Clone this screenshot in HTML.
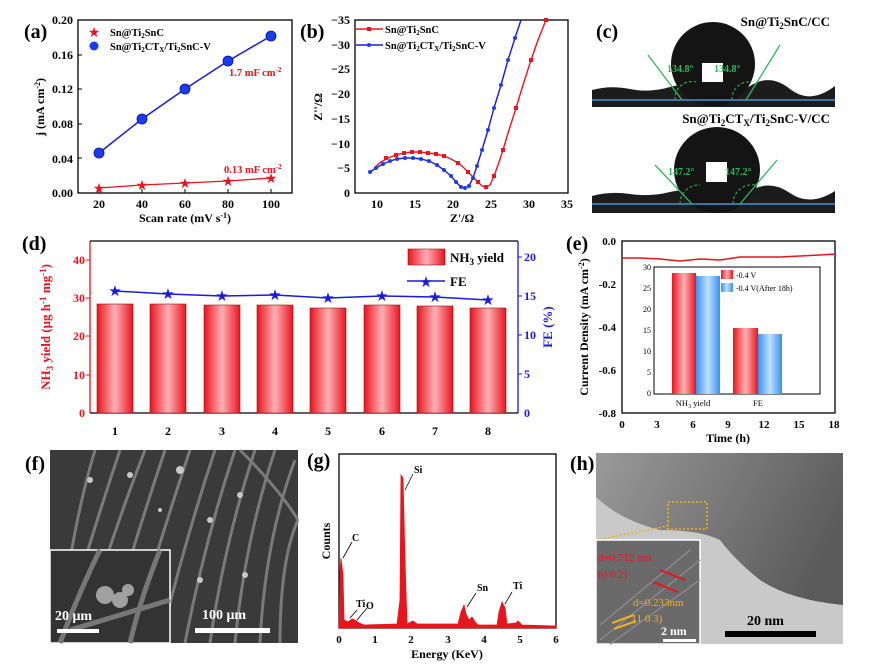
<!DOCTYPE html>
<html><head><meta charset="utf-8"><style>
body{margin:0;background:#fff}
svg{display:block;font-family:"Liberation Serif",serif;font-weight:bold}
</style></head><body>
<svg width="880" height="668" viewBox="0 0 880 668" xmlns="http://www.w3.org/2000/svg">
<!-- (a) -->
<text x="24" y="38" font-size="20">(a)</text>
<rect x="78" y="20" width="214" height="173" fill="none" stroke="#000" stroke-width="1.3"/>
<g font-size="12" text-anchor="end">
<text x="73" y="24">0.20</text><text x="73" y="59">0.16</text><text x="73" y="93">0.12</text><text x="73" y="128">0.08</text><text x="73" y="163">0.04</text><text x="73" y="197">0.00</text></g>
<g stroke="#000"><line x1="78" y1="55" x2="82" y2="55"/><line x1="78" y1="89" x2="82" y2="89"/><line x1="78" y1="124" x2="82" y2="124"/><line x1="78" y1="158" x2="82" y2="158"/>
<line x1="99" y1="193" x2="99" y2="189"/><line x1="142" y1="193" x2="142" y2="189"/><line x1="185" y1="193" x2="185" y2="189"/><line x1="228" y1="193" x2="228" y2="189"/><line x1="271" y1="193" x2="271" y2="189"/></g>
<g font-size="12" text-anchor="middle"><text x="99" y="208">20</text><text x="142" y="208">40</text><text x="185" y="208">60</text><text x="228" y="208">80</text><text x="271" y="208">100</text></g>
<text x="185" y="222" font-size="12" text-anchor="middle">Scan rate (mV s<tspan font-size="8" dy="-4">-1</tspan><tspan dy="4">)</tspan></text>
<text transform="translate(44,107) rotate(-90)" font-size="12" text-anchor="middle">j (mA cm<tspan font-size="8" dy="-4">-2</tspan><tspan dy="4">)</tspan></text>
<polyline points="99,153 142,119 185,89 228,61 271,36" fill="none" stroke="#1a1adc" stroke-width="1.5"/>
<g fill="#1a3cf0" stroke="#0010a0" stroke-width="0.8"><circle cx="99" cy="153" r="5"/><circle cx="142" cy="119" r="5"/><circle cx="185" cy="89" r="5"/><circle cx="228" cy="61" r="5"/><circle cx="271" cy="36" r="5"/></g>
<polyline points="99,188 142,185 185,183 228,181 271,178" fill="none" stroke="#e8141e" stroke-width="1.3"/>
<g fill="#e8141e" font-size="14" text-anchor="middle" font-weight="normal"><text x="99" y="193">★</text><text x="142" y="190">★</text><text x="185" y="188">★</text><text x="228" y="186">★</text><text x="271" y="183">★</text></g>
<text x="94" y="37" fill="#e8141e" font-size="14" text-anchor="middle" font-weight="normal">★</text>
<circle cx="94" cy="46" r="4.5" fill="#1a3cf0"/>
<g font-size="10.5"><text x="110" y="36">Sn@Ti<tspan font-size="7" dy="2">2</tspan><tspan dy="-2">SnC</tspan></text>
<text x="110" y="50">Sn@Ti<tspan font-size="7" dy="2">2</tspan><tspan dy="-2">CT</tspan><tspan font-size="7" dy="2">X</tspan><tspan dy="-2">/Ti</tspan><tspan font-size="7" dy="2">2</tspan><tspan dy="-2">SnC-V</tspan></text></g>
<text x="229" y="76" fill="#e8141e" font-size="10.5">1.7 mF cm<tspan font-size="7" dy="-4">-2</tspan></text>
<text x="224" y="173" fill="#e8141e" font-size="10.5">0.13 mF cm<tspan font-size="7" dy="-4">-2</tspan></text>

<!-- (b) -->
<text x="300" y="38" font-size="20">(b)</text>
<rect x="355" y="20" width="213" height="173" fill="none" stroke="#000" stroke-width="1.3"/>
<g font-size="12" text-anchor="end"><text x="350" y="24">−35</text><text x="350" y="49">−30</text><text x="350" y="73">−25</text><text x="350" y="98">−20</text><text x="350" y="123">−15</text><text x="350" y="148">−10</text><text x="350" y="172">−5</text><text x="350" y="197">0</text></g>
<g font-size="12" text-anchor="middle"><text x="377" y="208">10</text><text x="415" y="208">15</text><text x="453" y="208">20</text><text x="491" y="208">25</text><text x="529" y="208">30</text><text x="567" y="208">35</text></g>
<text x="462" y="222" font-size="12" text-anchor="middle">Z'/Ω</text>
<text transform="translate(322,107) rotate(-90)" font-size="12" text-anchor="middle">Z''/Ω</text>
<polyline points="375,167 381,162 388,158 396,155 404,153 412,152 420,152 428,153 436,154 444,156 451,159 458,163 463,167 468,172 473,177 478,182 482,186 486,187 490,185 494,176 498,165 503,150 509,130 516,108 523,85 531,60 538,40 546,20" fill="none" stroke="#e8141e" stroke-width="1.4"/>
<g fill="#e8141e"><rect x="384" y="156" width="4" height="4"/><rect x="394" y="153" width="4" height="4"/><rect x="402" y="151" width="4" height="4"/><rect x="410" y="150" width="4" height="4"/><rect x="418" y="150" width="4" height="4"/><rect x="426" y="151" width="4" height="4"/><rect x="434" y="152" width="4" height="4"/><rect x="442" y="154" width="4" height="4"/><rect x="456" y="161" width="4" height="4"/><rect x="466" y="170" width="4" height="4"/><rect x="476" y="180" width="4" height="4"/><rect x="484" y="185" width="4" height="4"/><rect x="492" y="174" width="4" height="4"/><rect x="501" y="148" width="4" height="4"/><rect x="514" y="106" width="4" height="4"/><rect x="529" y="58" width="4" height="4"/><rect x="544" y="18" width="4" height="4"/></g>
<polyline points="370,172 376,168 383,164 390,161 397,159 405,158 413,158 421,159 429,161 437,165 444,170 451,176 456,182 461,187 465,188 469,186 473,178 477,166 482,150 488,130 494,108 501,85 508,60 515,38 521,20" fill="none" stroke="#1a1adc" stroke-width="1.4"/>
<g fill="#1a3cf0"><circle cx="370" cy="172" r="2"/><circle cx="376" cy="168" r="2"/><circle cx="383" cy="164" r="2"/><circle cx="390" cy="161" r="2"/><circle cx="397" cy="159" r="2"/><circle cx="405" cy="158" r="2"/><circle cx="413" cy="158" r="2"/><circle cx="421" cy="159" r="2"/><circle cx="429" cy="161" r="2"/><circle cx="437" cy="165" r="2"/><circle cx="444" cy="170" r="2"/><circle cx="451" cy="176" r="2"/><circle cx="456" cy="182" r="2"/><circle cx="461" cy="187" r="2"/><circle cx="465" cy="188" r="2"/><circle cx="469" cy="186" r="2"/><circle cx="473" cy="178" r="2"/><circle cx="477" cy="166" r="2"/><circle cx="482" cy="150" r="2"/><circle cx="488" cy="130" r="2"/><circle cx="494" cy="108" r="2"/><circle cx="501" cy="85" r="2"/><circle cx="508" cy="60" r="2"/><circle cx="515" cy="38" r="2"/></g>
<line x1="356" y1="29" x2="383" y2="29" stroke="#e8141e" stroke-width="1.4"/><rect x="367" y="27" width="4" height="4" fill="#e8141e"/>
<line x1="356" y1="45" x2="383" y2="45" stroke="#1a1adc" stroke-width="1.4"/><circle cx="369" cy="45" r="2" fill="#1a3cf0"/>
<g font-size="10.5"><text x="385" y="33">Sn@Ti<tspan font-size="7" dy="2">2</tspan><tspan dy="-2">SnC</tspan></text>
<text x="385" y="49">Sn@Ti<tspan font-size="7" dy="2">2</tspan><tspan dy="-2">CT</tspan><tspan font-size="7" dy="2">X</tspan><tspan dy="-2">/Ti</tspan><tspan font-size="7" dy="2">2</tspan><tspan dy="-2">SnC-V</tspan></text></g>

<!-- (c) -->
<text x="596" y="38" font-size="20">(c)</text>
<text x="830" y="26" font-size="13" text-anchor="end">Sn@Ti<tspan font-size="9" dy="3">2</tspan><tspan dy="-3">SnC/CC</tspan></text>
<path d="M592,90 Q610,85 630,89 T670,87 T710,90 T750,86 T790,89 T835,86 L835,107 L592,107 Z" fill="#1c1c1c"/>
<circle cx="713" cy="64" r="42" fill="#141414"/>
<rect x="702" y="63" width="21" height="19" fill="#fff"/>
<line x1="592" y1="100" x2="835" y2="100" stroke="#4a90d8" stroke-width="1.5"/>
<line x1="648" y1="55" x2="682" y2="100" stroke="#2fb85a" stroke-width="1.3"/><line x1="780" y1="45" x2="746" y2="100" stroke="#2fb85a" stroke-width="1.3"/>
<path d="M675,100 A17,17 0 0 1 696,82 M732,100 A17,17 0 0 1 751,82" fill="none" stroke="#2fb85a" stroke-dasharray="3,2"/>
<text x="667" y="72" font-size="10" fill="#2fb85a">134.8°</text><text x="714" y="72" font-size="10" fill="#2fb85a">134.8°</text>
<text x="830" y="123" font-size="13" text-anchor="end">Sn@Ti<tspan font-size="9" dy="3">2</tspan><tspan dy="-3">CT</tspan><tspan font-size="9" dy="3">X</tspan><tspan dy="-3">/Ti</tspan><tspan font-size="9" dy="3">2</tspan><tspan dy="-3">SnC-V/CC</tspan></text>
<path d="M592,196 Q610,191 630,194 T670,192 T710,195 T750,191 T790,193 T835,191 L835,213 L592,213 Z" fill="#1c1c1c"/>
<circle cx="717" cy="170" r="43" fill="#141414"/>
<rect x="706" y="162" width="21" height="20" fill="#fff"/>
<line x1="592" y1="204" x2="835" y2="204" stroke="#4a90d8" stroke-width="1.5"/>
<line x1="655" y1="165" x2="692" y2="204" stroke="#2fb85a" stroke-width="1.3"/><line x1="777" y1="160" x2="740" y2="204" stroke="#2fb85a" stroke-width="1.3"/>
<path d="M680,204 A19,19 0 0 1 700,185 M733,204 A19,19 0 0 1 755,185" fill="none" stroke="#2fb85a" stroke-dasharray="3,2"/>
<text x="668" y="175" font-size="10" fill="#2fb85a">147.2°</text><text x="725" y="175" font-size="10" fill="#2fb85a">147.2°</text>

<!-- (d) -->
<text x="22" y="250" font-size="20">(d)</text>
<defs><linearGradient id="bar" x1="0" x2="1"><stop offset="0" stop-color="#e8141e"/><stop offset="0.5" stop-color="#ffb0b4"/><stop offset="1" stop-color="#e8141e"/></linearGradient>
<linearGradient id="bb" x1="0" x2="1"><stop offset="0" stop-color="#3a90f0"/><stop offset="0.5" stop-color="#bfe0ff"/><stop offset="1" stop-color="#3a90f0"/></linearGradient></defs>
<line x1="90" y1="241" x2="90" y2="413" stroke="#e8141e" stroke-width="1.3"/>
<line x1="518" y1="241" x2="518" y2="413" stroke="#1a1adc" stroke-width="1.3"/>
<line x1="90" y1="241" x2="518" y2="241" stroke="#000" stroke-width="1.3"/>
<line x1="90" y1="413" x2="518" y2="413" stroke="#000" stroke-width="1.3"/>
<g font-size="12" text-anchor="end" fill="#e8141e"><text x="85" y="264">40</text><text x="85" y="302">30</text><text x="85" y="340">20</text><text x="85" y="379">10</text><text x="85" y="417">0</text></g>
<g stroke="#e8141e"><line x1="86" y1="260" x2="90" y2="260"/><line x1="86" y1="298" x2="90" y2="298"/><line x1="86" y1="336" x2="90" y2="336"/><line x1="86" y1="375" x2="90" y2="375"/></g>
<g font-size="12" fill="#1a1adc"><text x="524" y="261">20</text><text x="524" y="300">15</text><text x="524" y="339">10</text><text x="524" y="378">5</text><text x="524" y="417">0</text></g>
<g stroke="#1a1adc"><line x1="518" y1="257" x2="522" y2="257"/><line x1="518" y1="296" x2="522" y2="296"/><line x1="518" y1="335" x2="522" y2="335"/><line x1="518" y1="374" x2="522" y2="374"/></g>
<text transform="translate(50,327) rotate(-90)" font-size="13" text-anchor="middle" fill="#e8141e">NH<tspan font-size="9" dy="3">3</tspan><tspan dy="-3"> yield (μg h</tspan><tspan font-size="9" dy="-4">-1</tspan><tspan dy="4"> mg</tspan><tspan font-size="9" dy="-4">-1</tspan><tspan dy="4">)</tspan></text>
<text transform="translate(552,327) rotate(-90)" font-size="13" text-anchor="middle" fill="#1a1adc">FE (%)</text>
<g fill="url(#bar)" stroke="#a01010" stroke-width="0.6">
<rect x="97" y="304" width="36" height="109"/><rect x="150" y="304" width="36" height="109"/><rect x="204" y="305" width="36" height="108"/><rect x="257" y="305" width="36" height="108"/><rect x="310" y="308" width="36" height="105"/><rect x="364" y="305" width="36" height="108"/><rect x="417" y="306" width="36" height="107"/><rect x="470" y="308" width="36" height="105"/></g>
<polyline points="115,291 168,294 222,296 275,295 328,298 382,296 435,297 488,300" fill="none" stroke="#1a1adc" stroke-width="1.5"/>
<g fill="#1a1adc" font-size="15" text-anchor="middle" font-weight="normal"><text x="115" y="296">★</text><text x="168" y="299">★</text><text x="222" y="301">★</text><text x="275" y="300">★</text><text x="328" y="303">★</text><text x="382" y="301">★</text><text x="435" y="302">★</text><text x="488" y="305">★</text></g>
<g font-size="12" text-anchor="middle"><text x="115" y="435">1</text><text x="168" y="435">2</text><text x="222" y="435">3</text><text x="275" y="435">4</text><text x="328" y="435">5</text><text x="382" y="435">6</text><text x="435" y="435">7</text><text x="488" y="435">8</text></g>
<rect x="408" y="249" width="37" height="16" fill="url(#bar)" stroke="#a01010" stroke-width="0.6"/>
<text x="450" y="262" font-size="13">NH<tspan font-size="9" dy="3">3</tspan><tspan dy="-3"> yield</tspan></text>
<line x1="407" y1="281" x2="445" y2="281" stroke="#1a1adc" stroke-width="1.5"/>
<text x="426" y="287" fill="#1a1adc" font-size="15" text-anchor="middle" font-weight="normal">★</text>
<text x="450" y="286" font-size="13">FE</text>

<!-- (e) -->
<text x="566" y="250" font-size="20">(e)</text>
<rect x="622" y="241" width="213" height="172" fill="none" stroke="#000" stroke-width="1.3"/>
<g font-size="11" text-anchor="end"><text x="616" y="245">0.0</text><text x="616" y="288">-0.2</text><text x="616" y="331">-0.4</text><text x="616" y="374">-0.6</text><text x="616" y="417">-0.8</text></g>
<g font-size="11" text-anchor="middle"><text x="622" y="428">0</text><text x="657" y="428">3</text><text x="693" y="428">6</text><text x="728" y="428">9</text><text x="764" y="428">12</text><text x="799" y="428">15</text><text x="834" y="428">18</text></g>
<text x="728" y="442" font-size="12" text-anchor="middle">Time (h)</text>
<text transform="translate(588,327) rotate(-90)" font-size="12" text-anchor="middle">Current Density (mA cm<tspan font-size="8" dy="-4">-2</tspan><tspan dy="4">)</tspan></text>
<polyline points="622,258 640,258 660,259 680,261 700,259 720,260 740,257 760,257 780,257 800,256 820,255 835,254" fill="none" stroke="#e8141e" stroke-width="1.5"/>
<rect x="654" y="267" width="166" height="127" fill="#fff" stroke="#000"/>
<g font-size="8" font-weight="normal" text-anchor="end"><text x="651" y="270">30</text><text x="651" y="291">25</text><text x="651" y="312">20</text><text x="651" y="333">15</text><text x="651" y="354">10</text><text x="651" y="375">5</text><text x="651" y="396">0</text></g>
<rect x="672" y="273" width="24" height="121" fill="url(#bar)"/>
<rect x="696" y="276" width="24" height="118" fill="url(#bb)"/>
<rect x="733" y="328" width="25" height="66" fill="url(#bar)"/>
<rect x="758" y="334" width="24" height="60" fill="url(#bb)"/>
<rect x="721" y="270" width="12" height="9" fill="url(#bar)"/><text x="736" y="278" font-size="8" font-weight="normal">-0.4 V</text>
<rect x="721" y="283" width="12" height="9" fill="url(#bb)"/><text x="736" y="291" font-size="8" font-weight="normal">-0.4 V(After 18h)</text>
<text x="693" y="406" font-size="8.5" font-weight="normal" text-anchor="middle">NH<tspan font-size="6" dy="2">3</tspan><tspan dy="-2"> yield</tspan></text>
<text x="758" y="406" font-size="8.5" font-weight="normal" text-anchor="middle">FE</text>

<!-- (f) -->
<text x="25" y="470" font-size="20">(f)</text>
<rect x="50" y="450" width="248" height="193" fill="#3a3a3a"/>
<g stroke="#8a8a8a" stroke-width="3" fill="none" opacity="0.8">
<path d="M60,643 Q90,540 120,450"/><path d="M80,643 Q110,540 145,450"/><path d="M105,643 Q135,540 165,450"/><path d="M130,643 Q160,540 190,450"/><path d="M160,643 Q185,540 215,450"/><path d="M185,643 Q205,540 235,450"/><path d="M210,643 Q225,540 255,450"/><path d="M235,643 Q245,540 275,450"/><path d="M260,643 Q265,540 295,460"/><path d="M280,643 Q280,560 298,520"/><path d="M240,450 Q280,490 298,520"/><path d="M70,560 Q80,500 95,450"/></g>
<g fill="#c8c8c8"><circle cx="130" cy="475" r="3"/><circle cx="180" cy="470" r="4"/><circle cx="210" cy="520" r="3"/><circle cx="240" cy="495" r="3"/><circle cx="90" cy="480" r="3"/><circle cx="160" cy="510" r="2"/><circle cx="200" cy="580" r="3"/><circle cx="245" cy="575" r="3"/></g>
<rect x="50" y="550" width="120" height="93" fill="#333" stroke="#fff" stroke-width="1.5"/>
<g stroke="#777" stroke-width="5" fill="none"><path d="M60,643 Q80,590 100,550"/><path d="M130,643 Q140,600 160,550"/><path d="M70,630 L170,600"/></g>
<g fill="#a0a0a0"><circle cx="105" cy="595" r="9"/><circle cx="120" cy="600" r="8"/><circle cx="128" cy="590" r="6"/></g>
<text x="55" y="620" font-size="14" fill="#fff">20 μm</text><rect x="57" y="629" width="42" height="4" fill="#fff"/>
<text x="202" y="619" font-size="14" fill="#fff">100 μm</text><rect x="195" y="628" width="75" height="5" fill="#fff"/>

<!-- (g) -->
<text x="307" y="467" font-size="20">(g)</text>
<rect x="339" y="454" width="217" height="174" fill="none" stroke="#000" stroke-width="1.3"/>
<path d="M339,628 L340,570 L341,558 L343,575 L344,620 L348,622 L352,619 L355,620 L359,623 L364,625 L397,624 L400,600 L401,475 L403,478 L405,560 L407,624 L413,621 L417,624 L458,624 L461,612 L464,605 L466,614 L469,620 L472,617 L475,622 L478,625 L497,625 L499,612 L502,602 L505,608 L507,624 L516,623 L518,621 L522,625 L556,626 L556,628 Z" fill="#e8141e" stroke="#e8141e" stroke-width="0.8"/>
<g font-size="11" text-anchor="middle"><text x="339" y="643">0</text><text x="375" y="643">1</text><text x="411" y="643">2</text><text x="448" y="643">3</text><text x="484" y="643">4</text><text x="520" y="643">5</text><text x="556" y="643">6</text></g>
<text x="447" y="658" font-size="12" text-anchor="middle">Energy (KeV)</text>
<text transform="translate(330,541) rotate(-90)" font-size="12" text-anchor="middle">Counts</text>
<g stroke="#000" stroke-width="0.8"><line x1="343" y1="558" x2="352" y2="542"/><line x1="405" y1="490" x2="413" y2="474"/><line x1="350" y1="618" x2="357" y2="610"/><line x1="357" y1="620" x2="367" y2="608"/><line x1="467" y1="607" x2="476" y2="593"/><line x1="505" y1="604" x2="512" y2="592"/></g>
<g font-size="10"><text x="352" y="541">C</text><text x="414" y="473">Si</text><text x="356" y="607">Ti</text><text x="366" y="609">O</text><text x="477" y="591">Sn</text><text x="513" y="589">Ti</text></g>

<!-- (h) -->
<text x="570" y="470" font-size="20">(h)</text>
<defs><linearGradient id="tem" x1="0" y1="0" x2="1" y2="0.4"><stop offset="0" stop-color="#9a9a9a"/><stop offset="1" stop-color="#5a5a5a"/></linearGradient></defs>
<rect x="596" y="453" width="247" height="191" fill="url(#tem)"/>
<path d="M596,497 Q620,520 660,530 Q700,530 720,540 Q735,560 760,580 Q790,600 843,605 L843,644 L596,644 Z" fill="#c9c9c9"/>
<rect x="668" y="502" width="39" height="27" fill="none" stroke="#f0b020" stroke-width="1.5" stroke-dasharray="2,2"/>
<line x1="596" y1="540" x2="668" y2="526" stroke="#f0b020" stroke-width="1.5" stroke-dasharray="2,2"/>
<rect x="596" y="540" width="104" height="104" fill="#6a6a6a" stroke="#fff" stroke-width="1.5"/>
<g stroke="#888" stroke-width="1.5"><line x1="600" y1="640" x2="700" y2="560"/><line x1="600" y1="625" x2="690" y2="550"/><line x1="610" y1="644" x2="700" y2="580"/></g>
<text x="598" y="561" font-size="11" fill="#e8141e" font-weight="normal">d=0.712 nm</text>
<text x="598" y="578" font-size="11" fill="#e8141e" font-weight="normal">(0 0 2)</text>
<line x1="660" y1="570" x2="685" y2="580" stroke="#e8141e" stroke-width="2"/><line x1="653" y1="582" x2="678" y2="592" stroke="#e8141e" stroke-width="2"/>
<text x="633" y="606" font-size="11" fill="#f0b020" font-weight="normal">d=0.233nm</text>
<text x="633" y="622" font-size="11" fill="#f0b020" font-weight="normal">(1 0 3)</text>
<line x1="612" y1="623" x2="634" y2="615" stroke="#f0b020" stroke-width="2"/><line x1="614" y1="629" x2="636" y2="621" stroke="#f0b020" stroke-width="2"/>
<text x="661" y="635" font-size="12" fill="#fff">2 nm</text><rect x="663" y="639" width="33" height="3" fill="#fff"/>
<text x="747" y="625" font-size="14">20 nm</text><rect x="725" y="631" width="91" height="6" fill="#000"/>
</svg>
</body></html>
